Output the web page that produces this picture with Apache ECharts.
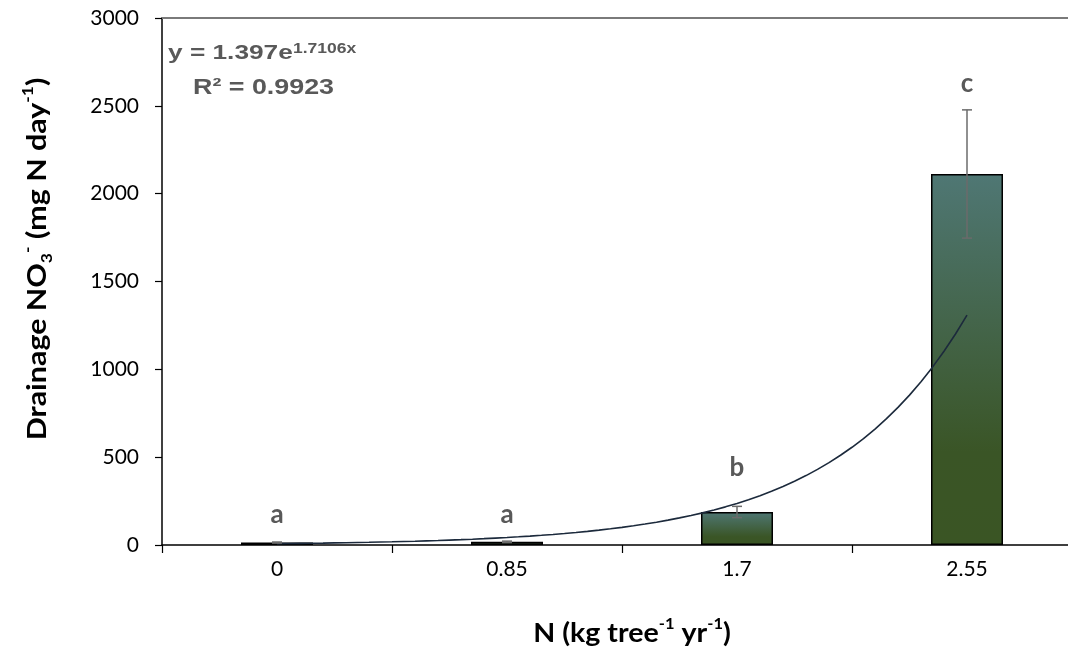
<!DOCTYPE html>
<html>
<head>
<meta charset="utf-8">
<script src="https://cdn.jsdelivr.net/npm/echarts@6/dist/echarts.min.js"></script>
<style>
  html, body { margin: 0; padding: 0; background: #fff; }
  #chart { width: 1068px; height: 654px; }
</style>
</head>
<body>
<div id="chart"></div>
<script>
// N application rate (kg tree-1 yr-1)
const categories = ['0', '0.85', '1.7', '2.55'];
// Mean drainage NO3- (mg N day-1)
const nitrate = [14, 18, 188, 2112];
// Standard error of each mean
const stdErr = [3, 4, 32, 365];
// Significance letters
const letters = ['a', 'a', 'b', 'c'];
// Y axis ticks
const yMin = 0, yMax = 3000, yStep = 500;
// Exponential trendline y = A e^(B x), x = treatment index 1..4
const TREND_A = 1.397;
const TREND_B = 1.7106;
const TREND_R2 = 0.9923;

// Pixel gap between each error bar top and its letter centre
const letterGap = [27, 27, 39, 26];

const trend = [];
for (let k = 0; k <= 60; k++) {
  const x = 1 + k * 3 / 60;
  trend.push([x, TREND_A * Math.exp(TREND_B * x)]);
}

const chart = echarts.init(document.getElementById('chart'), null, { renderer: 'canvas' });

const axisFont = 'Lato, "Open Sans", sans-serif';
const eqFont = '"Liberation Sans", Arial, sans-serif';
const eqColor = '#595959';

chart.setOption({
  animation: false,
  backgroundColor: '#fff',
  // the plot runs past the right edge of the canvas
  grid: { left: 162, top: 18, width: 920, height: 527, containLabel: false, outerBoundsMode: 'none' },
  xAxis: [
    {
      type: 'category',
      data: categories,
      boundaryGap: true,
      axisLine: { lineStyle: { color: '#000', width: 1.5 } },
      axisTick: { show: true, length: 8, lineStyle: { color: '#000', width: 1.2 } },
      axisLabel: { margin: 14, fontSize: 21, color: '#000', fontFamily: axisFont },
      splitLine: { show: false }
    },
    {
      type: 'value',
      position: 'top',
      min: 0.5,
      max: 4.5,
      axisLine: { show: true, onZero: false, lineStyle: { color: '#7a7a7a', width: 2 } },
      axisTick: { show: false },
      axisLabel: { show: false },
      splitLine: { show: false }
    }
  ],
  yAxis: {
    type: 'value',
    min: yMin,
    max: yMax,
    interval: yStep,
    axisLine: { show: true, lineStyle: { color: '#000', width: 1.5 } },
    axisTick: { show: true, length: 7, lineStyle: { color: '#000', width: 1.2 } },
    axisLabel: {
      margin: 23, fontSize: 21, color: '#000', fontFamily: axisFont,
      formatter: v => String(v)
    },
    splitLine: { show: false }
  },
  series: [
    {
      type: 'bar',
      data: nitrate,
      barWidth: 72,
      z: 2,
      itemStyle: {
        borderColor: '#000',
        borderWidth: 1.5,
        color: new echarts.graphic.LinearGradient(0, 0, 0, 1, [
          { offset: 0, color: '#4f7774' },
          { offset: 0.75, color: '#3a5526' },
          { offset: 1, color: '#3a5524' }
        ])
      }
    },
    {
      type: 'line',
      xAxisIndex: 1,
      data: trend,
      showSymbol: false,
      smooth: false,
      z: 3,
      lineStyle: { color: '#1c2a3c', width: 1.6 }
    },
    {
      type: 'custom',
      z: 4,
      data: nitrate.map((v, i) => [i, v, stdErr[i]]),
      renderItem: function (params, api) {
        const i = api.value(0), v = api.value(1), e = api.value(2);
        const top = api.coord([i, v + e]);
        const bot = api.coord([i, v - e]);
        const cap = 5;
        const st = { stroke: '#6b6b6b', lineWidth: 1.5 };
        return {
          type: 'group',
          children: [
            { type: 'line', shape: { x1: top[0], y1: top[1], x2: bot[0], y2: bot[1] }, style: st },
            { type: 'line', shape: { x1: top[0] - cap, y1: top[1], x2: top[0] + cap, y2: top[1] }, style: st },
            { type: 'line', shape: { x1: bot[0] - cap, y1: bot[1], x2: bot[0] + cap, y2: bot[1] }, style: st },
            {
              type: 'text',
              style: {
                text: letters[params.dataIndex],
                x: top[0], y: top[1] - letterGap[params.dataIndex],
                align: 'center', verticalAlign: 'middle',
                font: 'bold 26px Lato, "Open Sans", sans-serif',
                fill: '#595959'
              }
            }
          ]
        };
      }
    }
  ],
  graphic: [
    {
      type: 'text',
      x: 168, y: 53,
      scaleX: 1.25,
      style: {
        text: 'y = ' + TREND_A.toFixed(3) + 'e',
        font: 'bold 21px ' + eqFont,
        fill: eqColor,
        verticalAlign: 'middle'
      }
    },
    {
      type: 'text',
      x: 293, y: 49,
      scaleX: 1.25,
      style: {
        text: TREND_B.toFixed(4) + 'x',
        font: 'bold 14px ' + eqFont,
        fill: eqColor,
        verticalAlign: 'middle'
      }
    },
    {
      type: 'text',
      x: 193, y: 88,
      scaleX: 1.22,
      style: {
        text: 'R² = ' + TREND_R2.toFixed(4),
        font: 'bold 22px ' + eqFont,
        fill: eqColor,
        verticalAlign: 'middle'
      }
    },
    {
      type: 'text',
      x: 38, y: 259,
      rotation: Math.PI / 2,
      scaleX: 1.17,
      style: {
        text: '{m|Drainage NO}{sub|3}{sup|-}{m| (mg N day}{sup|-1}{m|)}',
        align: 'center',
        verticalAlign: 'middle',
        rich: {
          m: { fontSize: 26, fontWeight: 'bold', fontFamily: axisFont, fill: '#000', lineHeight: 34, verticalAlign: 'middle' },
          sup: { fontSize: 15, fontWeight: 'bold', fontFamily: axisFont, fill: '#000', lineHeight: 22, verticalAlign: 'top' },
          sub: { fontSize: 15, fontWeight: 'bold', fontFamily: axisFont, fill: '#000', lineHeight: 17, verticalAlign: 'bottom' }
        }
      }
    },
    {
      type: 'text',
      x: 632, y: 634,
      scaleX: 1.1,
      style: {
        text: '{m|N (kg tree}{sup|-1}{m| yr}{sup|-1}{m|)}',
        align: 'center',
        verticalAlign: 'middle',
        rich: {
          m: { fontSize: 26, fontWeight: 'bold', fontFamily: axisFont, fill: '#000', lineHeight: 34, verticalAlign: 'middle' },
          sup: { fontSize: 15, fontWeight: 'bold', fontFamily: axisFont, fill: '#000', lineHeight: 22, verticalAlign: 'top' }
        }
      }
    }
  ]
});
</script>
</body>
</html>
